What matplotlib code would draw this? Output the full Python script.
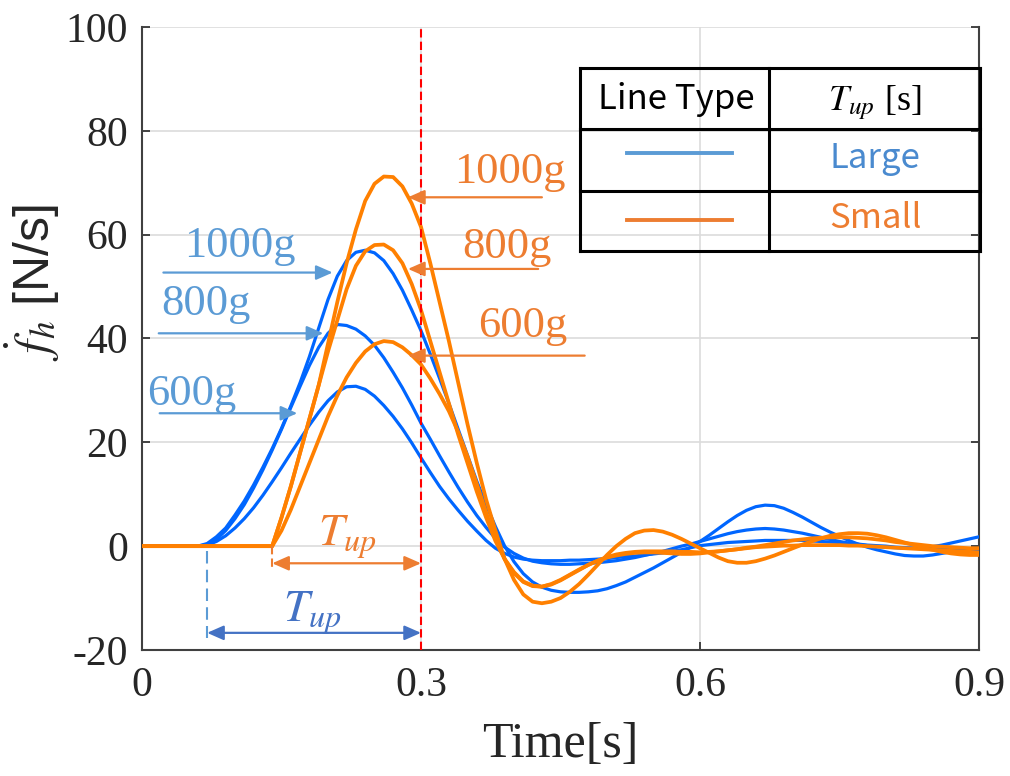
import numpy as np
import matplotlib
matplotlib.use("Agg")
import matplotlib.pyplot as plt

# time axis [s]
t = np.round(np.arange(0, 0.905, 0.01), 2)

# force-rate responses, large rise time (blue)
blue_1000 = [
    0, 0, 0, 0, 0, 0, 0, 0.5, 1.8, 3.5,
    6.0, 8.7, 11.8, 15.2, 18.8, 22.7, 27.0, 31.5, 36.5, 42.0,
    47.5, 52.0, 55.0, 56.6, 57.0, 56.5, 55.0, 52.5, 49.3, 45.5,
    41.5, 37.0, 32.3, 27.5, 22.5, 17.5, 12.5, 8.0, 3.8, 0.0,
    -3.0, -5.3, -6.9, -7.9, -8.5, -8.8, -8.9, -8.9, -8.8, -8.6,
    -8.2, -7.6, -6.9, -6.0, -5.1, -4.2, -3.2, -2.2, -1.2, -0.2,
    0.9, 2.1, 3.4, 4.7, 5.9, 6.9, 7.6, 7.9, 7.8, 7.3,
    6.5, 5.6, 4.6, 3.6, 2.7, 1.9, 1.1, 0.4, -0.2, -0.7,
    -1.1, -1.5, -1.8, -1.9, -1.9, -1.7, -1.4, -1.1, -0.9, -0.8,
    -0.8,
]
blue_800 = [
    0, 0, 0, 0, 0, 0, 0, 0.3, 1.3, 3.0,
    5.3, 8.0, 11.2, 14.7, 18.5, 22.5, 26.7, 30.8, 34.8, 38.3,
    41.0, 42.7, 42.5, 41.8, 40.5, 38.7, 36.3, 33.5, 30.5, 27.2,
    23.7, 20.6, 17.4, 14.3, 11.3, 8.5, 5.9, 3.6, 1.5, -0.2,
    -1.4, -2.3, -2.9, -3.2, -3.4, -3.5, -3.5, -3.4, -3.3, -3.2,
    -3.0, -2.8, -2.5, -2.2, -1.8, -1.4, -1.0, -0.5, 0.0, 0.4,
    0.9, 1.4, 1.9, 2.4, 2.8, 3.1, 3.3, 3.4, 3.3, 3.1,
    2.8, 2.5, 2.1, 1.7, 1.3, 0.9, 0.6, 0.3, 0.1, -0.1,
    -0.2, -0.3, -0.4, -0.4, -0.3, -0.1, 0.2, 0.6, 1.0, 1.4,
    1.8,
]
blue_600 = [
    0, 0, 0, 0, 0, 0, 0, 0.2, 0.9, 2.0,
    3.5, 5.3, 7.4, 9.8, 12.4, 15.1, 17.9, 20.6, 23.3, 25.8,
    28.0, 29.7, 30.7, 30.8, 30.2, 28.9, 27.1, 25.0, 22.6, 19.9,
    17.0, 14.2, 11.5, 9.1, 6.9, 4.8, 2.9, 1.1, -0.4, -1.4,
    -2.1, -2.5, -2.7, -2.8, -2.8, -2.8, -2.7, -2.7, -2.6, -2.5,
    -2.4, -2.2, -2.0, -1.9, -1.7, -1.5, -1.3, -1.0, -0.7, -0.3,
    0.1, 0.3, 0.5, 0.7, 0.8, 0.9, 1.0, 1.1, 1.1, 1.1,
    1.1, 1.1, 1.0, 0.9, 0.8, 0.7, 0.5, 0.4, 0.2, 0.1,
    0.0, -0.2, -0.3, -0.4, -0.5, -0.6, -0.6, -0.6, -0.6, -0.6,
    -0.6,
]

# force-rate responses, small rise time (orange)
orange_1000 = [
    0, 0, 0, 0, 0, 0, 0, 0, 0, 0,
    0, 0, 0, 0, 0, 5.5, 11.5, 18.0, 24.5, 31.0,
    39.0, 47.0, 54.5, 61.0, 66.5, 69.8, 71.2, 71.1, 69.3, 66.0,
    61.5, 54.5, 47.0, 39.5, 31.5, 23.5, 16.0, 9.0, 3.0, -2.5,
    -6.5, -9.3, -10.7, -11.0, -10.7, -10.0, -8.8, -7.3, -5.5, -3.6,
    -1.7, 0.0, 1.4, 2.5, 3.0, 3.1, 2.8, 2.2, 1.4, 0.5,
    -0.4, -1.3, -2.2, -2.9, -3.2, -3.2, -2.9, -2.4, -1.8, -1.1,
    -0.4, 0.3, 0.9, 1.5, 2.0, 2.3, 2.5, 2.5, 2.4, 2.1,
    1.7, 1.2, 0.7, 0.2, -0.3, -0.7, -1.1, -1.4, -1.6, -1.7,
    -1.7,
]
orange_800 = [
    0, 0, 0, 0, 0, 0, 0, 0, 0, 0,
    0, 0, 0, 0, 0, 5.5, 11.5, 18.0, 24.5, 31.0,
    37.5, 43.5, 49.5, 54.0, 56.8, 58.0, 58.1, 57.0, 54.5, 50.5,
    45.5, 39.5, 33.5, 27.5, 21.5, 16.0, 10.5, 5.5, 1.0, -2.5,
    -5.0, -6.8, -7.6, -7.8, -7.4, -6.6, -5.6, -4.6, -3.6, -2.8,
    -2.1, -1.6, -1.3, -1.1, -1.0, -1.0, -1.0, -1.0, -1.1, -1.1,
    -1.2, -1.1, -1.0, -0.8, -0.6, -0.3, -0.1, 0.2, 0.5, 0.8,
    1.1, 1.3, 1.5, 1.6, 1.7, 1.7, 1.7, 1.6, 1.5, 1.3,
    1.1, 0.8, 0.6, 0.4, 0.2, 0.0, -0.1, -0.2, -0.3, -0.4,
    -0.4,
]
orange_600 = [
    0, 0, 0, 0, 0, 0, 0, 0, 0, 0,
    0, 0, 0, 0, 0, 3.0, 7.0, 11.5, 16.0, 20.5,
    25.0, 29.0, 32.5, 35.3, 37.5, 38.9, 39.5, 39.3, 38.3, 36.8,
    35.0, 32.3, 29.3, 26.0, 22.0, 17.3, 12.0, 6.5, 1.5, -2.5,
    -5.2, -6.9, -7.7, -7.8, -7.3, -6.5, -5.5, -4.5, -3.6, -2.8,
    -2.2, -1.8, -1.5, -1.3, -1.2, -1.2, -1.3, -1.4, -1.5, -1.5,
    -1.4, -1.2, -1.0, -0.8, -0.6, -0.4, -0.2, -0.1, 0.0, 0.1,
    0.1, 0.2, 0.2, 0.2, 0.2, 0.2, 0.1, 0.1, 0.0, -0.1,
    -0.2, -0.3, -0.4, -0.5, -0.6, -0.7, -0.8, -0.9, -1.0, -1.1,
    -1.2,
]

mass_labels = ["1000g", "800g", "600g"]
t_end = 0.3            # end of rise window [s]
t_start_large = 0.07   # start of rise, large T_up
t_start_small = 0.14   # start of rise, small T_up

x_ticks = [0, 0.3, 0.6, 0.9]
x_tick_labels = ["0", "0.3", "0.6", "0.9"]
y_ticks = [-20, 0, 20, 40, 60, 80, 100]
y_tick_labels = ["-20", "0", "20", "40", "60", "80", "100"]

BLUE = "#0066FF"
ORANGE = "#FF8000"
BLUE_NOTE = "#5B9BD5"
BLUE_DARK = "#4472C4"
ORANGE_NOTE = "#ED7D31"

plt.rcParams["font.family"] = "Liberation Serif"
plt.rcParams["mathtext.fontset"] = "stix"

fig = plt.figure(figsize=(10.1, 7.76), dpi=100)
ax = fig.add_axes([0.1406, 0.1624, 0.8287, 0.8028])

for y in (blue_1000, blue_800, blue_600):
    ax.plot(t, y, color=BLUE, lw=2.3, solid_joinstyle="round", zorder=3)
for y in (orange_1000, orange_800, orange_600):
    ax.plot(t, y, color=ORANGE, lw=2.7, solid_joinstyle="round", zorder=4)

ax.axvline(t_end, color="red", lw=1.5, ls=(0, (4, 2)), zorder=5)

ax.set_xlim(0, 0.9)
ax.set_ylim(-20, 100)
ax.set_xticks(x_ticks)
ax.set_xticklabels(x_tick_labels)
ax.set_yticks(y_ticks)
ax.set_yticklabels(y_tick_labels)
ax.grid(True, color="#DCDCDC", lw=1.2, zorder=0)
ax.set_axisbelow(True)
ax.tick_params(axis="both", direction="in", length=6, width=1.2, labelsize=30,
               colors="#262626", right=True, top=False)
ax.tick_params(axis="x", pad=12)
ax.tick_params(axis="y", pad=10)
ax.spines["top"].set_visible(False)
for s in ("left", "bottom", "right"):
    ax.spines[s].set_color("#404040")
    ax.spines[s].set_linewidth(1.5)

ax.set_xlabel("Time[s]", fontsize=36, color="#262626")
ax.xaxis.set_label_coords(0.5, -0.115)
ax.set_ylabel(r"$\dot{f}_h$ [N/s]", fontsize=36, family="Liberation Sans",
              color="#262626")
ax.yaxis.set_label_coords(-0.096, 0.59)


def arrow(tip, tail, color, style="-|>"):
    ax.annotate("", xy=tip, xytext=tail,
                arrowprops=dict(arrowstyle=f"{style},head_length=0.5,head_width=0.22",
                                color=color, lw=1.6, mutation_scale=20,
                                shrinkA=0, shrinkB=0),
                zorder=6)


# mass labels for the large T_up curves
blue_text = [(0.105, 57.9), (0.069, 46.7), (0.054, 29.4)]
blue_arrows = [((0.205, 52.7), (0.023, 52.7)),
               ((0.195, 41.0), (0.018, 41.0)),
               ((0.167, 25.6), (0.019, 25.6))]
for lab, pos, (tip, tail) in zip(mass_labels, blue_text, blue_arrows):
    ax.text(*pos, lab, fontsize=32, color=BLUE_NOTE, ha="center", va="center", zorder=6)
    arrow(tip, tail, BLUE_NOTE)

# mass labels for the small T_up curves
orange_text = [(0.396, 72.0), (0.392, 57.6), (0.409, 42.5)]
orange_arrows = [((0.286, 67.2), (0.430, 67.2)),
                 ((0.286, 53.4), (0.426, 53.4)),
                 ((0.286, 36.7), (0.476, 36.7))]
for lab, pos, (tip, tail) in zip(mass_labels, orange_text, orange_arrows):
    ax.text(*pos, lab, fontsize=32, color=ORANGE_NOTE, ha="center", va="center", zorder=6)
    arrow(tip, tail, ORANGE_NOTE)

# rise-time brackets
ax.plot([t_start_small, t_start_small], [0, -4.4], color=ORANGE_NOTE, lw=1.5,
        ls=(0, (4, 2)), zorder=5)
arrow((t_end, -3.3), (t_start_small, -3.3), ORANGE_NOTE, "<|-|>")
ax.text(0.221, 1.7, r"$T_{up}$", fontsize=33, color=ORANGE_NOTE, ha="center",
        va="center", zorder=6)

ax.plot([t_start_large, t_start_large], [-1.0, -17.7], color=BLUE_NOTE, lw=1.5,
        ls=(0, (6, 3)), zorder=5)
arrow((t_end, -16.7), (t_start_large, -16.7), BLUE_DARK, "<|-|>")
ax.text(0.183, -13.0, r"$T_{up}$", fontsize=33, color=BLUE_DARK, ha="center",
        va="center", zorder=6)

# legend table
tr = ax.transAxes
xs = [0.523, 0.749, 1.001]
ys = [0.934, 0.836, 0.737, 0.640]
for y in ys:
    ax.plot([xs[0], xs[-1]], [y, y], color="black", lw=2.2, transform=tr,
            clip_on=False, zorder=7, solid_capstyle="projecting")
for x in xs:
    ax.plot([x, x], [ys[-1], ys[0]], color="black", lw=2.2, transform=tr,
            clip_on=False, zorder=7, solid_capstyle="projecting")

ax.text(0.638, 0.883, "Line Type", fontsize=25, family="Noto Sans CJK JP",
        ha="center", va="center", transform=tr, zorder=7)
ax.text(0.876, 0.878, r"$T_{up}$ [s]", fontsize=26, ha="center", va="center",
        transform=tr, zorder=7)
ax.plot([0.579, 0.705], [0.798, 0.798], color=BLUE_NOTE, lw=2.8, transform=tr, zorder=7)
ax.plot([0.579, 0.705], [0.690, 0.690], color=ORANGE_NOTE, lw=2.8, transform=tr, zorder=7)
ax.text(0.876, 0.789, "Large", fontsize=25, family="Noto Sans CJK JP",
        color="#4A8ACF", ha="center", va="center", transform=tr, zorder=7)
ax.text(0.876, 0.693, "Small", fontsize=25, family="Noto Sans CJK JP",
        color=ORANGE_NOTE, ha="center", va="center", transform=tr, zorder=7)

fig.savefig("out.png", dpi=100)
